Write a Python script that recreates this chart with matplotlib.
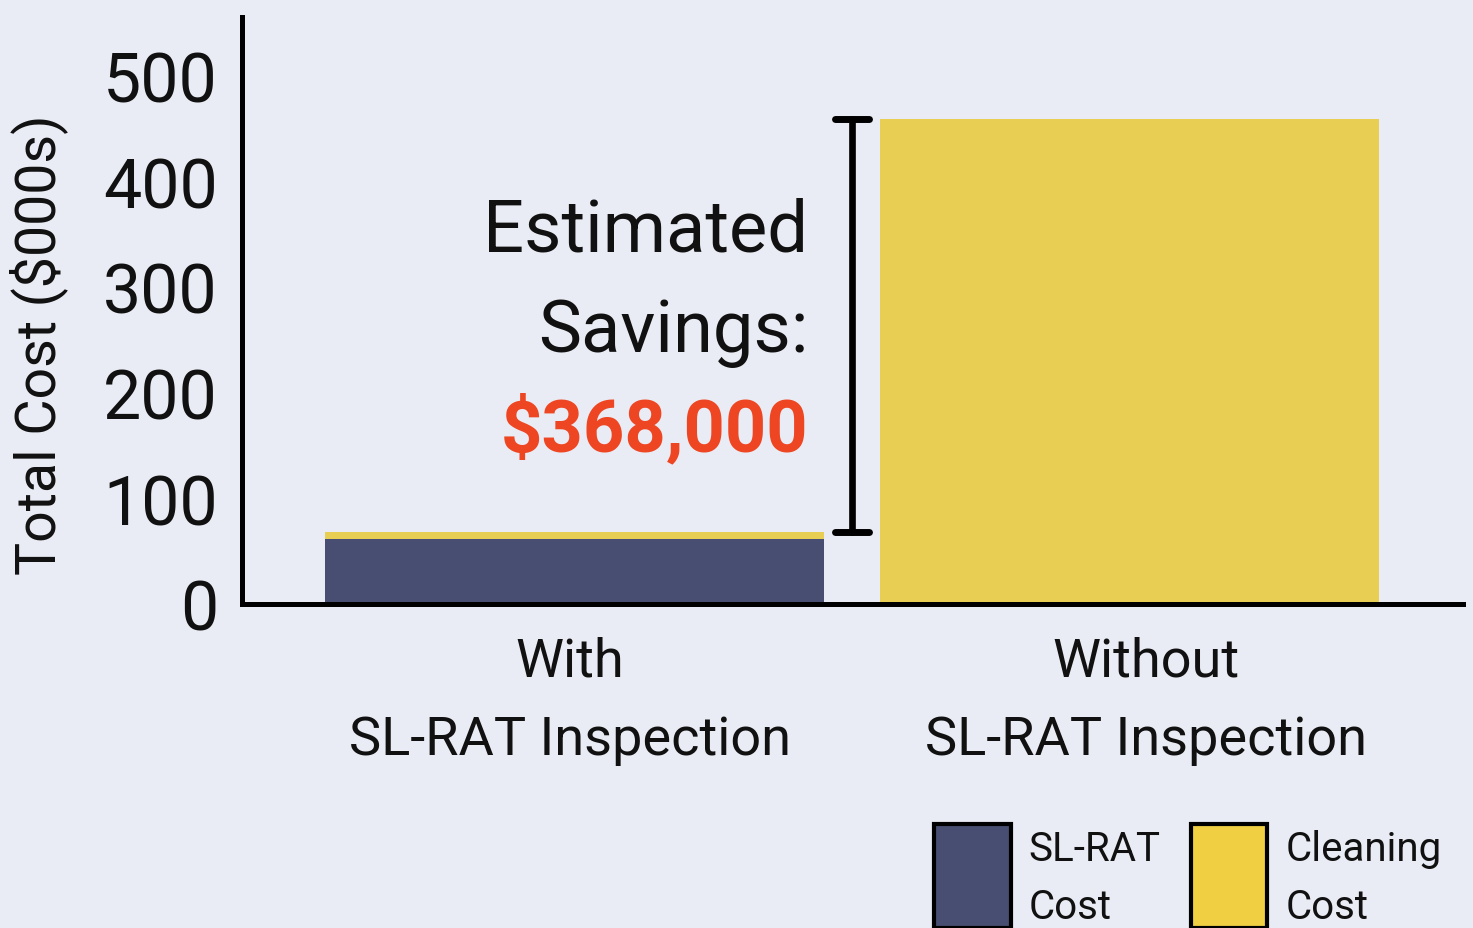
import matplotlib.pyplot as plt
from matplotlib.patches import Patch
from matplotlib.markers import MarkerStyle
from matplotlib.transforms import ScaledTranslation

plt.rcParams['font.family'] = ['Roboto', 'DejaVu Sans']

# data ($000s)
categories = ['With\nSL-RAT Inspection', 'Without\nSL-RAT Inspection']
slrat_cost = [61, 0]
cleaning_cost = [7, 459]
legend_labels = ['SL-RAT\nCost', 'Cleaning\nCost']
yticks = [0, 100, 200, 300, 400, 500]
savings_text = ['Estimated', 'Savings:', '$368,000']

bg = '#E9ECF4'
navy = '#474E71'
yellow = '#E8CE52'
red = '#EE4522'
ink = '#111111'

fig = plt.figure(figsize=(14.73, 9.29), dpi=100)
fig.patch.set_facecolor(bg)
ax = fig.add_axes([0.164, 0.349, 0.829, 0.632])
ax.set_facecolor(bg)

x = list(range(len(categories)))
ax.bar(x, slrat_cost, width=0.9, color=navy)
ax.bar(x, cleaning_cost, bottom=slrat_cost, width=0.9, color=yellow)

# savings bracket between the two totals
totals = [a + b for a, b in zip(slrat_cost, cleaning_cost)]
lo, hi = min(totals), max(totals)
_, caps, bars = ax.errorbar(0.5, (lo + hi) / 2, yerr=(hi - lo) / 2, fmt='none',
                            ecolor='black', elinewidth=4.8, capsize=12.5, capthick=5)
for c in caps:
    c.set_marker(MarkerStyle('_', capstyle='round'))
for b in bars:
    b.set_capstyle('round')

ax.set_xlim(-0.6, 1.6)
ax.set_ylim(0, 556)
ax.set_yticks(yticks)
ax.set_xticks(x)
ax.set_xticklabels(categories, fontsize=39, color=ink, linespacing=1.68)
ax.tick_params(axis='y', labelsize=49, length=0, pad=17, labelcolor=ink)
ax.tick_params(axis='x', length=0, pad=23)
for lab, dx in zip(ax.get_xticklabels(), [-5, 16]):
    lab.set_transform(lab.get_transform() + ScaledTranslation(dx / 100, 0, fig.dpi_scale_trans))
ax.set_ylabel('Total Cost ($000s)', fontsize=40, color=ink)
ax.yaxis.set_label_coords(-0.1425, 0.443)

for s in ['top', 'right']:
    ax.spines[s].set_visible(False)
for s in ['left', 'bottom']:
    ax.spines[s].set_linewidth(3.6)
    ax.spines[s].set_color('black')

ax.text(0.464, 0.601, savings_text[0], transform=ax.transAxes, ha='right',
        va='baseline', fontsize=52, color=ink)
ax.text(0.464, 0.431, savings_text[1], transform=ax.transAxes, ha='right',
        va='baseline', fontsize=52, color=ink)
ax.text(0.464, 0.261, savings_text[2], transform=ax.transAxes, ha='right',
        va='baseline', fontsize=52, color=red, fontweight='bold')

handles = [Patch(facecolor=navy, edgecolor='black', linewidth=3),
           Patch(facecolor='#F0CF42', edgecolor='black', linewidth=3)]
leg = fig.legend(handles, legend_labels, loc='upper left',
                 bbox_to_anchor=(934 / 1473, 1 - 824 / 929), ncol=2, frameon=False,
                 fontsize=29, handlelength=1.9, handleheight=3.6, handletextpad=0.45,
                 columnspacing=0.75, borderpad=0, borderaxespad=0, labelspacing=0)
for t in leg.get_texts():
    t.set_linespacing(1.62)
    t.set_color(ink)
    t.set_transform(t.get_transform() + ScaledTranslation(0, -0.06, fig.dpi_scale_trans))

fig.savefig('out.png', dpi=100, facecolor=bg)
